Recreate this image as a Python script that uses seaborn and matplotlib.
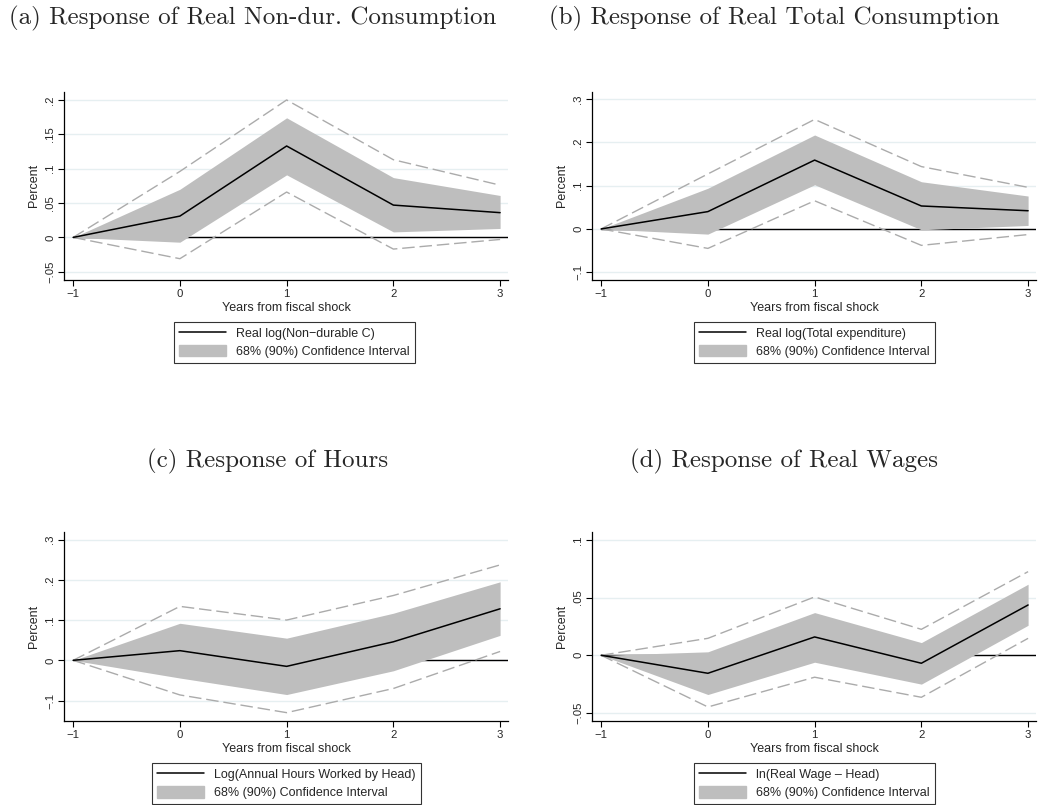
import numpy as np
import pandas as pd
import matplotlib
matplotlib.use("Agg")
import matplotlib.pyplot as plt
import seaborn as sns
from matplotlib.ticker import FixedLocator, FuncFormatter
from matplotlib.patches import Patch
from matplotlib.lines import Line2D

# ---------------- data ----------------
horizon = [-1, 0, 1, 2, 3]

a_pt   = [0, 0.031, 0.133, 0.047, 0.036]
a_lo68 = [0, -0.007, 0.091, 0.008, 0.013]
a_hi68 = [0, 0.070, 0.174, 0.087, 0.061]
a_lo90 = [0, -0.031, 0.066, -0.017, -0.003]
a_hi90 = [0, 0.096, 0.200, 0.113, 0.076]

b_pt   = [0, 0.040, 0.159, 0.053, 0.042]
b_lo68 = [0, -0.012, 0.102, -0.002, 0.008]
b_hi68 = [0, 0.094, 0.217, 0.109, 0.076]
b_lo90 = [0, -0.045, 0.065, -0.038, -0.013]
b_hi90 = [0, 0.127, 0.253, 0.144, 0.096]

c_pt   = [0, 0.024, -0.015, 0.046, 0.128]
c_lo68 = [0, -0.044, -0.085, -0.026, 0.062]
c_hi68 = [0, 0.092, 0.055, 0.117, 0.195]
c_lo90 = [0, -0.086, -0.130, -0.070, 0.022]
c_hi90 = [0, 0.134, 0.100, 0.161, 0.237]

d_pt   = [0, -0.0156, 0.0159, -0.0069, 0.0436]
d_lo68 = [0, -0.034, -0.006, -0.025, 0.026]
d_hi68 = [0, 0.003, 0.037, 0.011, 0.0616]
d_lo90 = [0, -0.0448, -0.019, -0.0364, 0.0147]
d_hi90 = [0, 0.0147, 0.0506, 0.0225, 0.0725]

titles = ["(a) Response of Real Non-dur. Consumption",
          "(b) Response of Real Total Consumption",
          "(c) Response of Hours",
          "(d) Response of Real Wages"]
series_labels = ["Real log(Non\u2212durable C)",
                 "Real log(Total expenditure)",
                 "Log(Annual Hours Worked by Head)",
                 "ln(Real Wage \u2013 Head)"]
ci_label = "68% (90%) Confidence Interval"
x_label = "Years from fiscal shock"
y_label = "Percent"
x_ticks = [-1, 0, 1, 2, 3]
y_ticks = [[-0.05, 0, 0.05, 0.10, 0.15, 0.20],
           [-0.1, 0, 0.1, 0.2, 0.3],
           [-0.1, 0, 0.1, 0.2, 0.3],
           [-0.05, 0, 0.05, 0.10]]
y_lims = [(-0.062, 0.212), (-0.118, 0.317), (-0.150, 0.318), (-0.0567, 0.1066)]

panels = [(a_pt, a_lo68, a_hi68, a_lo90, a_hi90),
          (b_pt, b_lo68, b_hi68, b_lo90, b_hi90),
          (c_pt, c_lo68, c_hi68, c_lo90, c_hi90),
          (d_pt, d_lo68, d_hi68, d_lo90, d_hi90)]

# ---------------- style ----------------
sns.set_theme(style="white")
plt.rcParams["font.family"] = ["Liberation Sans", "DejaVu Sans"]
plt.rcParams["axes.unicode_minus"] = True

SHADE = "#bebebe"
DASH = "#ababab"
GRID = "#e6eff1"

def stata_fmt(v, pos=None):
    if abs(v) < 1e-12:
        return "0"
    s = f"{abs(v):g}"
    if s.startswith("0."):
        s = s[1:]
    return ("\u2212" if v < 0 else "") + s

fig = plt.figure(figsize=(10.4, 8.05), dpi=100)
W, H = 1040.0, 805.0
# axes boxes in pixels: left, right, top, bottom
boxes = [(64.3, 508.0, 91.7, 280.0),
         (592.3, 1036.0, 91.7, 280.0),
         (64.3, 508.0, 532.3, 720.7),
         (592.3, 1036.0, 532.3, 720.7)]
title_pos = [(253, 18), (774, 18), (268, 461), (784, 461)]
legend_cx = [0.518, 0.50, 0.50, 0.50]

for i, (box, data) in enumerate(zip(boxes, panels)):
    l, r, t, b = box
    ax = fig.add_axes([l / W, 1 - b / H, (r - l) / W, (b - t) / H])
    pt, lo68, hi68, lo90, hi90 = data
    df = pd.DataFrame({"h": horizon, "pt": pt, "lo90": lo90, "hi90": hi90})

    ax.set_xlim(-1.083, 3.074)
    ax.set_ylim(*y_lims[i])

    for yv in y_ticks[i]:
        ax.axhline(yv, color=GRID, lw=1.0, zorder=0)

    x0 = (-1 - ax.get_xlim()[0]) / (ax.get_xlim()[1] - ax.get_xlim()[0])
    ax.axhline(0, xmin=x0, xmax=1, color="black", lw=1.0, zorder=0.5)
    ax.fill_between(horizon, lo68, hi68, color=SHADE, lw=0, zorder=1)
    for col in ["lo90", "hi90"]:
        sns.lineplot(data=df, x="h", y=col, ax=ax, color=DASH, lw=1.0,
                     dashes=False, zorder=3)
        ax.lines[-1].set_dashes((9, 3.5))
    sns.lineplot(data=df, x="h", y="pt", ax=ax, color="black", lw=1.1, zorder=4)

    ax.xaxis.set_major_locator(FixedLocator(x_ticks))
    ax.xaxis.set_major_formatter(FuncFormatter(stata_fmt))
    ax.yaxis.set_major_locator(FixedLocator(y_ticks[i]))
    ax.yaxis.set_major_formatter(FuncFormatter(stata_fmt))
    ax.tick_params(axis="both", direction="out", length=4.5, width=0.8,
                   color="black", labelsize=8.2, pad=2, left=True, bottom=True)
    ax.tick_params(axis="y", labelrotation=90)
    for lab in ax.get_yticklabels():
        lab.set_va("center")
    ax.set_xlabel(x_label, fontsize=9, labelpad=2)
    ax.set_ylabel(y_label, fontsize=9, labelpad=4)
    ax.grid(False)
    for s in ["top", "right"]:
        ax.spines[s].set_visible(False)
    for s in ["left", "bottom"]:
        ax.spines[s].set_color("black")
        ax.spines[s].set_linewidth(0.9)

    handles = [Line2D([], [], color="black", lw=1.1),
               Patch(facecolor=SHADE, edgecolor=SHADE)]
    leg_y = -(321.7 - b) / (b - t) if i < 2 else -(763.0 - b) / (b - t)
    leg = ax.legend(handles, [series_labels[i], ci_label], loc="upper center",
                    bbox_to_anchor=(legend_cx[i], leg_y), fontsize=9,
                    frameon=True, fancybox=False, edgecolor="black",
                    handlelength=3.8, handleheight=1.05, labelspacing=0.4,
                    borderpad=0.4, handletextpad=0.8, borderaxespad=0)
    leg.get_frame().set_linewidth(0.8)

    fig.text(title_pos[i][0] / W, 1 - title_pos[i][1] / H, titles[i],
             ha="center", va="center", fontsize=18, family="cmr10")

fig.savefig("out.png", dpi=100)
